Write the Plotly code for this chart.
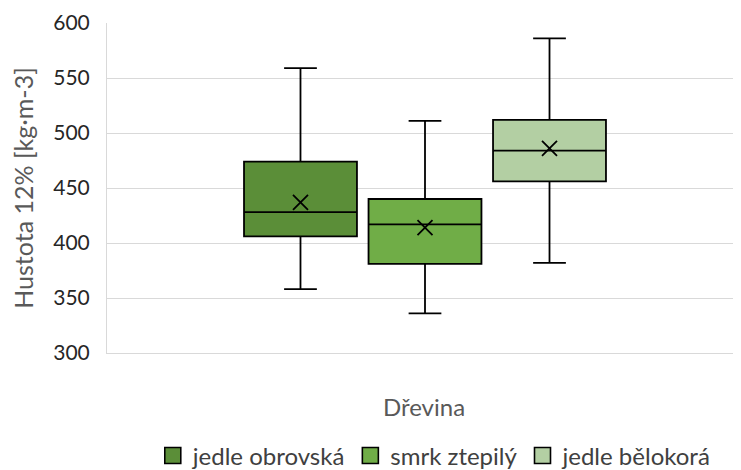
import plotly.graph_objects as go

species = ["jedle obrovská", "smrk ztepilý", "jedle bělokorá"]
colors = ["#5B8E38", "#70AD47", "#B3CFA3"]
lower_whisker = [358, 336, 382]
q1_vals = [406, 381, 456]
median_vals = [428, 417, 484]
q3_vals = [474, 440, 512]
upper_whisker = [559, 511, 586]
mean_vals = [437, 414, 486]

FONT = "Lato"
fig = go.Figure()

for i, name in enumerate(species):
    fig.add_trace(go.Box(
        x=[name], q1=[q1_vals[i]], median=[median_vals[i]], q3=[q3_vals[i]],
        lowerfence=[lower_whisker[i]], upperfence=[upper_whisker[i]],
        fillcolor=colors[i], line=dict(color="#000000", width=1.8),
        whiskerwidth=0.29, width=0.907, showlegend=False, name=name,
        hoverinfo="skip",
    ))
    fig.add_trace(go.Scatter(
        x=[name], y=[mean_vals[i]], mode="markers",
        marker=dict(symbol="x-thin", size=15, line=dict(color="#000000", width=1.8)),
        showlegend=False, hoverinfo="skip",
    ))

for i, name in enumerate(species):
    fig.add_trace(go.Scatter(
        x=[None], y=[None], mode="markers", name=name,
        marker=dict(symbol="square", size=16, color=colors[i],
                    line=dict(color="#000000", width=1.6)),
    ))

fig.update_layout(
    width=733, height=462,
    margin=dict(l=99, r=0, t=15, b=117, autoexpand=False),
    paper_bgcolor="white", plot_bgcolor="white",
    font=dict(family=FONT, size=20, color="#404040"),
    boxmode="overlay",
    showlegend=True,
    legend=dict(orientation="h", x=0.517, xanchor="center", y=-0.312, yanchor="middle",
                font=dict(family=FONT, size=24, color="#404040"),
                itemsizing="trace", traceorder="normal"),
    xaxis=dict(
        type="category", categoryorder="array", categoryarray=species,
        range=[-1.554, 3.538], showticklabels=False, showgrid=False,
        showline=True, linecolor="#D9D9D9", linewidth=1, zeroline=False,
        automargin=False,
        title=dict(text="Dřevina", font=dict(family=FONT, size=24, color="#595959"), standoff=46),
        fixedrange=True,
    ),
    yaxis=dict(
        range=[300, 600], dtick=50, tick0=300,
        showgrid=True, gridcolor="#D9D9D9", gridwidth=1,
        showline=True, linecolor="#D9D9D9", linewidth=1, zeroline=False,
        automargin=False,
        tickfont=dict(family=FONT, size=21, color="#262626"),
        ticks="", ticklabelstandoff=12,
        title=dict(text="Hustota 12% [kg·m-3]", font=dict(family=FONT, size=25, color="#595959"), standoff=14),
    ),
)

fig.write_html("out.html")
